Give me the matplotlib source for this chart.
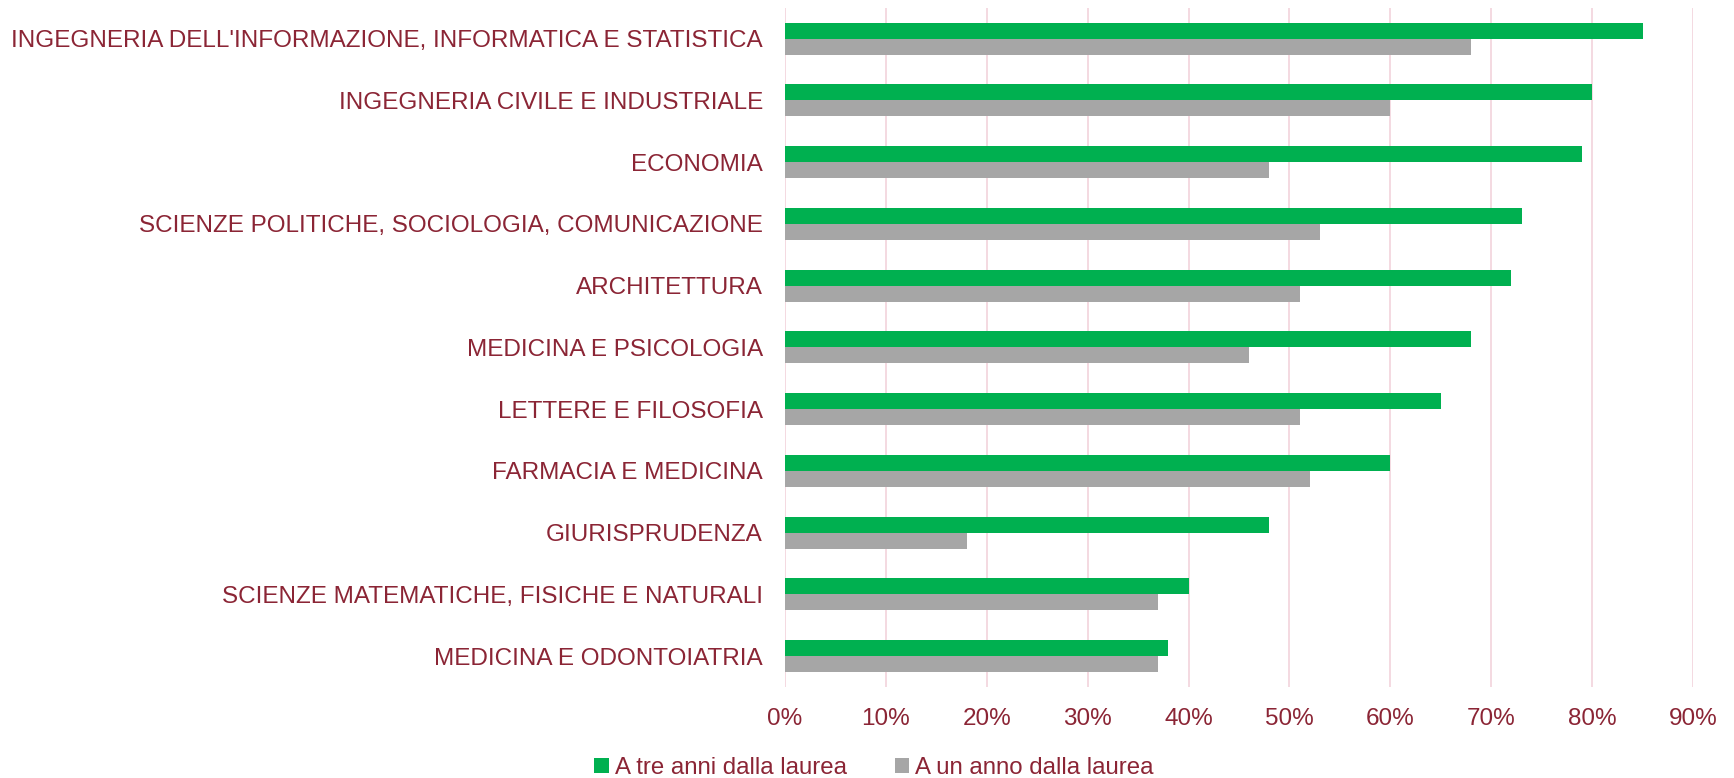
import numpy as np
import matplotlib
matplotlib.use('Agg')
import matplotlib.pyplot as plt
from matplotlib.ticker import PercentFormatter

categorie = ["INGEGNERIA DELL'INFORMAZIONE, INFORMATICA E STATISTICA",
             "INGEGNERIA CIVILE E INDUSTRIALE",
             "ECONOMIA",
             "SCIENZE POLITICHE, SOCIOLOGIA, COMUNICAZIONE",
             "ARCHITETTURA",
             "MEDICINA E PSICOLOGIA",
             "LETTERE E FILOSOFIA",
             "FARMACIA E MEDICINA",
             "GIURISPRUDENZA",
             "SCIENZE MATEMATICHE, FISICHE E NATURALI",
             "MEDICINA E ODONTOIATRIA"]
tre_anni = [85, 80, 79, 73, 72, 68, 65, 60, 48, 40, 38]
un_anno = [68, 60, 48, 53, 51, 46, 51, 52, 18, 37, 37]

rosso = '#8B2535'
plt.rcParams['font.family'] = ['Liberation Sans', 'DejaVu Sans']

fig = plt.figure(figsize=(17.34, 7.78), dpi=100)
ax = fig.add_axes([0.4527, 0.117, 0.5237, 0.873])

y = np.arange(len(categorie))
h = 0.258
ax.barh(y - h/2, tre_anni, height=h, color='#00B050', label='A tre anni dalla laurea', zorder=3)
ax.barh(y + h/2, un_anno, height=h, color='#A6A6A6', label='A un anno dalla laurea', zorder=3)

ax.set_xlim(0, 90)
ax.set_ylim(len(categorie) - 0.5, -0.5)
ax.set_xticks(np.arange(0, 91, 10))
ax.xaxis.set_major_formatter(PercentFormatter(decimals=0))
ax.set_yticks(y)
ax.set_yticklabels(categorie)
ax.tick_params(axis='both', length=0, labelsize=17.5, labelcolor=rosso)
ax.tick_params(axis='y', pad=16)
ax.tick_params(axis='x', pad=15)
ax.grid(axis='x', color='#F2D3DB', linewidth=1.2, zorder=0)
for s in ax.spines.values():
    s.set_visible(False)

fig.legend(loc='center', bbox_to_anchor=(0.504, 0.013), ncol=2, frameon=False,
           fontsize=17.3, labelcolor=rosso, handlelength=0.6, handleheight=0.6,
           handletextpad=0.25, columnspacing=2.0)

fig.savefig('out.png', dpi=100)
